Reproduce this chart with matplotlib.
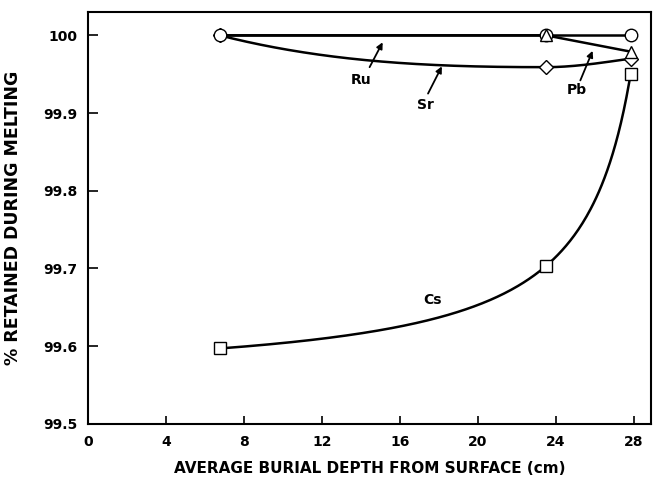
import numpy as np
import matplotlib
matplotlib.use("Agg")
import matplotlib.pyplot as plt
import matplotlib as mpl
mpl.rc("font", family="DejaVu Sans", weight="bold", size=10)

# ----- data -----
depth = [6.75, 23.5, 27.85]          # cm
ru = [100.0, 100.0, 100.0]
pb = [100.0, 100.0, 99.979]
sr = [100.0, 99.959, 99.970]
cs = [99.597, 99.703, 99.950]

xticks = [0, 4, 8, 12, 16, 20, 24, 28]
yticks = [99.5, 99.6, 99.7, 99.8, 99.9, 100.0]
ytick_labels = ["99.5", "99.6", "99.7", "99.8", "99.9", "100"]

labels = {
    "Ru": dict(text=(14.0, 99.942), tail=(14.45, 99.959), head=(15.12, 99.991)),
    "Sr": dict(text=(17.3, 99.910), tail=(17.45, 99.925), head=(18.16, 99.960)),
    "Pb": dict(text=(25.1, 99.929), tail=(25.27, 99.942), head=(25.9, 99.980)),
    "Cs": dict(text=(17.7, 99.659), tail=None, head=None),
}


def pchip(x, y, xn):
    # monotone cubic hermite, same endpoint rule as scipy
    x = np.asarray(x, float)
    y = np.asarray(y, float)
    h = np.diff(x)
    d = np.diff(y) / h
    m = np.zeros_like(y)
    for k in range(1, len(x) - 1):
        if d[k - 1] * d[k] > 0:
            w1 = 2 * h[k] + h[k - 1]
            w2 = h[k] + 2 * h[k - 1]
            m[k] = (w1 + w2) / (w1 / d[k - 1] + w2 / d[k])

    def edge(h0, h1, d0, d1):
        s = ((2 * h0 + h1) * d0 - h0 * d1) / (h0 + h1)
        if np.sign(s) != np.sign(d0):
            s = 0.0
        elif np.sign(d0) != np.sign(d1) and abs(s) > abs(3 * d0):
            s = 3 * d0
        return s

    m[0] = edge(h[0], h[1], d[0], d[1])
    m[-1] = edge(h[-1], h[-2], d[-1], d[-2])
    yn = np.empty_like(xn)
    for i, xv in enumerate(xn):
        k = min(max(np.searchsorted(x, xv) - 1, 0), len(x) - 2)
        t = (xv - x[k]) / h[k]
        h00 = 2 * t**3 - 3 * t**2 + 1
        h10 = t**3 - 2 * t**2 + t
        h01 = -2 * t**3 + 3 * t**2
        h11 = t**3 - t**2
        yn[i] = h00 * y[k] + h10 * h[k] * m[k] + h01 * y[k + 1] + h11 * h[k] * m[k + 1]
    return yn


def hypcurve(x, y, xn):
    # y = c + b/(X - x) through three points (smooth rising curve)
    x1, x2, x3 = x
    y1, y2, y3 = y
    r = (y3 - y2) / (y2 - y1)
    # r = (x3-x2)(X-x1) / ((x2-x1)(X-x3))  -> solve for X
    a = (x3 - x2)
    g = (x2 - x1)
    X = (r * g * x3 - a * x1) / (r * g - a)
    b = (y2 - y1) / (1 / (X - x2) - 1 / (X - x1))
    c = y1 - b / (X - x1)
    return c + b / (X - xn)


fig = plt.figure(figsize=(6.53, 4.80), dpi=100)
ax = fig.add_axes([0.135, 0.117, 0.862, 0.858])

xs = np.linspace(depth[0], depth[-1], 300)
lw = 1.8
ax.plot(depth, ru, "k-", lw=lw)
ax.plot(depth, pb, "k-", lw=lw)
ax.plot(xs, pchip(depth, sr, xs), "k-", lw=lw)
ax.plot(xs, hypcurve(depth, cs, xs), "k-", lw=lw)

mk = dict(ls="none", mfc="white", mec="black", mew=1.0, ms=9)
ax.plot(depth, cs, marker="s", **dict(mk, ms=8.5))
ax.plot(depth, sr, marker="D", **dict(mk, ms=7.5))
ax.plot(depth, ru, marker="o", **mk)
ax.plot(depth[1:], pb[1:], marker="^", **mk)

for name, pos in labels.items():
    ax.text(*pos["text"], name, ha="center", va="center", fontsize=10, fontweight="bold")
    if pos["head"] is not None:
        ax.annotate("", xy=pos["head"], xytext=pos["tail"],
                    arrowprops=dict(arrowstyle="-|>", color="black", lw=1.3,
                                    mutation_scale=9, shrinkA=0, shrinkB=0))

ax.set_xlim(0, 28.9)
ax.set_ylim(99.5, 100.03)
ax.set_xticks(xticks)
ax.set_yticks(yticks)
ax.set_yticklabels(ytick_labels)
ax.tick_params(axis="x", direction="in", length=6, width=1.2, pad=8, labelsize=10)
ax.tick_params(axis="y", direction="in", length=7, width=1.2, pad=8, labelsize=10)
for sp in ax.spines.values():
    sp.set_linewidth(1.5)

ax.set_xlabel("AVERAGE BURIAL DEPTH FROM SURFACE (cm)", fontsize=11, fontweight="bold", labelpad=9)
ax.set_ylabel("% RETAINED DURING MELTING", fontsize=12.5, fontweight="bold", labelpad=15)

plt.savefig("out.png", dpi=100)
plt.close(fig)
